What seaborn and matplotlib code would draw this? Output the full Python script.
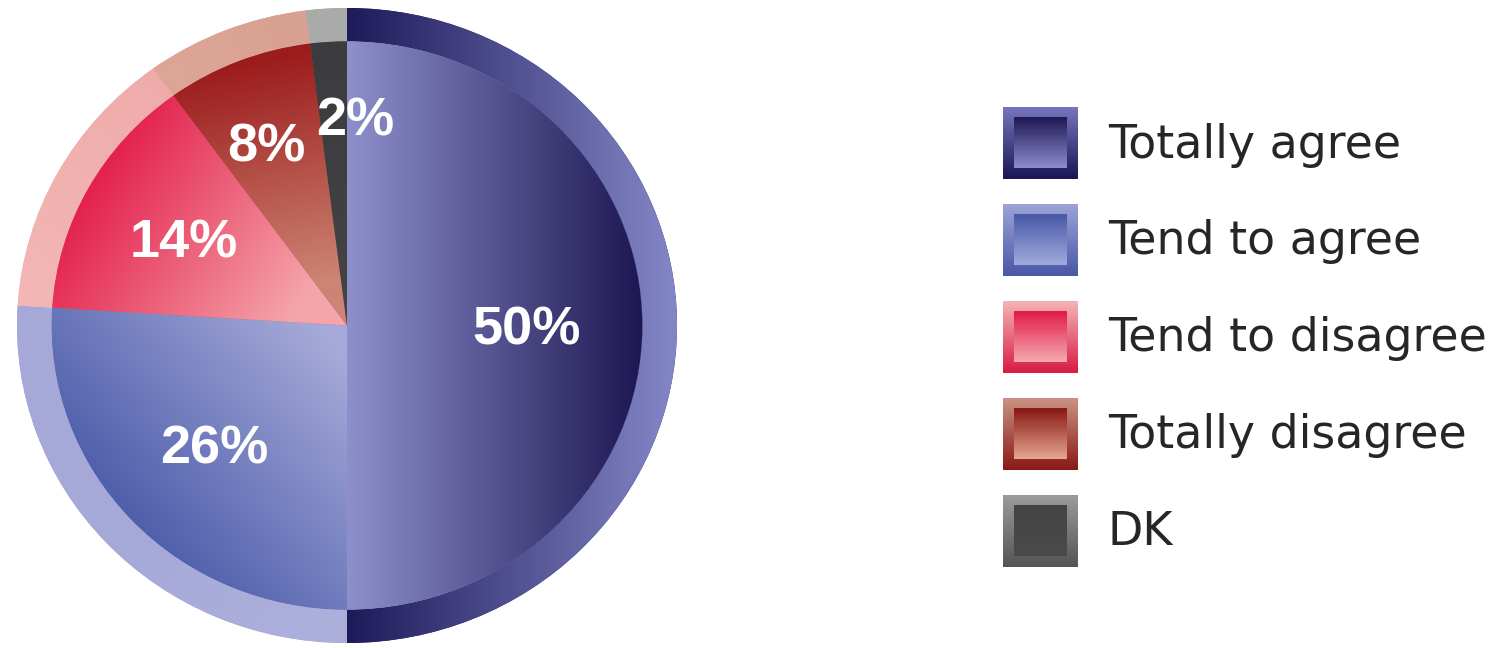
import numpy as np
import matplotlib
matplotlib.use("Agg")
import matplotlib.pyplot as plt
import seaborn as sns
from matplotlib.patches import Patch, Rectangle
from matplotlib.legend_handler import HandlerBase
from matplotlib.colors import to_rgb

# ---------------- data ----------------
categories = ["Totally agree", "Tend to agree", "Tend to disagree", "Totally disagree", "DK"]
values = [50, 26, 14, 8, 2]
labels = ["50%", "26%", "14%", "8%", "2%"]

# ---------------- style ----------------
sns.set_theme(style="white")
plt.rcParams["font.family"] = ["DejaVu Sans"]

# inner gradient (start point, start colour, end point, end colour)
inner_grad = [
    ((0.0, 0.0), "#8e90cc", (0.9, 0.0), "#1c1652"),
    ((-0.75, -0.65), "#4456a6", (-0.05, -0.05), "#a6aad8"),
    ((-0.8, 0.45), "#e31d4a", (-0.15, 0.05), "#f5a5aa"),
    ((-0.2, 0.85), "#9c1c1c", (-0.05, 0.15), "#cc8474"),
    ((0.0, 0.9), "#3c3c3e", (0.0, 0.0), "#444446"),
]
ring_grad = [
    ((0.0, 0.0), "#1e1a5a", (1.0, 0.0), "#8487c7"),
    ((-0.7, -0.7), "#a6a9d8", (0.0, -1.0), "#aeb0dc"),
    ((-1.0, 0.2), "#f2b6b4", (-0.5, 0.85), "#eeaaa8"),
    ((-0.5, 0.85), "#dca596", (-0.1, 1.0), "#d8a090"),
    ((0.0, 1.0), "#a9aba9", (0.0, 0.9), "#a9aba9"),
]
legend_grad = [  # inner top, inner bottom, border top, border bottom
    ("#221a58", "#8c8acb", "#7474bc", "#1c1654"),
    ("#4a5aa8", "#9eaadb", "#9aa2d6", "#4a58a6"),
    ("#e01e4a", "#f6a8ae", "#f4b0b4", "#d81e44"),
    ("#8a1a16", "#e4a48e", "#c89080", "#8a1a18"),
    ("#444444", "#4a4a4a", "#9a9a9a", "#555555"),
]
label_dist = [0.545, 0.55, 0.565, 0.62, 0.66]
label_dx = [0.0, 0.0, 0.0, -0.017, 0.065]
label_dy = -0.015

fig = plt.figure(figsize=(15.01, 6.48), dpi=100)
fig.patch.set_facecolor("white")
W, H = 1501, 648
cx, cy, rx, ry = 347, 325.5, 330, 317.5
ax = fig.add_axes([(cx - rx) / W, (H - cy - ry) / H, 2 * rx / W, 2 * ry / H])

R_in = 0.895
outer, _ = ax.pie(values, radius=1.0, startangle=90, counterclock=False,
                  colors=[g[1] for g in ring_grad],
                  wedgeprops=dict(width=1.0 - R_in, linewidth=0))
inner, _ = ax.pie(values, radius=R_in, startangle=90, counterclock=False,
                  colors=[g[1] for g in inner_grad],
                  wedgeprops=dict(linewidth=0))
ax.set_aspect("auto")
ax.set_xlim(-1, 1)
ax.set_ylim(-1, 1)
ax.axis("off")

N = 700
xs = np.linspace(-1, 1, N)
X, Y = np.meshgrid(xs, xs)


def gradient(p0, c0, p1, c1):
    d = np.array(p1) - np.array(p0)
    L2 = max(d @ d, 1e-9)
    t = ((X - p0[0]) * d[0] + (Y - p0[1]) * d[1]) / L2
    t = np.clip(t, 0, 1)[..., None]
    return np.array(to_rgb(c0)) * (1 - t) + np.array(to_rgb(c1)) * t


for wedges, grads in ((outer, ring_grad), (inner, inner_grad)):
    for w, g in zip(wedges, grads):
        img = ax.imshow(gradient(*g), extent=(-1, 1, -1, 1), origin="lower",
                        interpolation="bilinear", zorder=2, aspect="auto")
        img.set_clip_path(w)

for w, lab, dist, dx in zip(inner, labels, label_dist, label_dx):
    ang = np.deg2rad((w.theta1 + w.theta2) / 2)
    ax.text(np.cos(ang) * dist + dx, np.sin(ang) * dist + label_dy, lab,
            ha="center", va="center", color="white", fontsize=39,
            fontweight="bold", family=["Liberation Sans", "DejaVu Sans"], zorder=5)


class GradHandler(HandlerBase):
    def __init__(self, cols):
        super().__init__()
        self.cols = cols

    def create_artists(self, legend, orig_handle, xdescent, ydescent,
                       width, height, fontsize, trans):
        it, ib, bt, bb = [np.array(to_rgb(c)) for c in self.cols]
        arts = []
        n = 24
        x0, y0 = -xdescent, -ydescent
        for i in range(n):
            f = i / (n - 1)
            col = bb * (1 - f) + bt * f
            arts.append(Rectangle((x0, y0 + height * i / n), width, height / n + 0.3,
                                  facecolor=col, lw=0, transform=trans))
        px, py = width * 0.15, height * 0.15
        ih = height - 2 * py
        for i in range(n):
            f = i / (n - 1)
            col = ib * (1 - f) + it * f
            arts.append(Rectangle((x0 + px, y0 + py + ih * i / n), width - 2 * px,
                                  ih / n + 0.3, facecolor=col, lw=0, transform=trans))
        return arts


handles = [Patch(label=c) for c in categories]
hmap = {h: GradHandler(g) for h, g in zip(handles, legend_grad)}
leg = fig.legend(handles=handles, handler_map=hmap, loc="upper left",
                 bbox_to_anchor=(1003 / W, 1 - 107 / H), frameon=False,
                 fontsize=33, handlelength=1.636, handleheight=2.04,
                 labelspacing=0.545, handletextpad=0.65, borderpad=0,
                 borderaxespad=0)
for t in leg.get_texts():
    t.set_color("#262626")

fig.savefig("out.png", dpi=100, facecolor="white")
